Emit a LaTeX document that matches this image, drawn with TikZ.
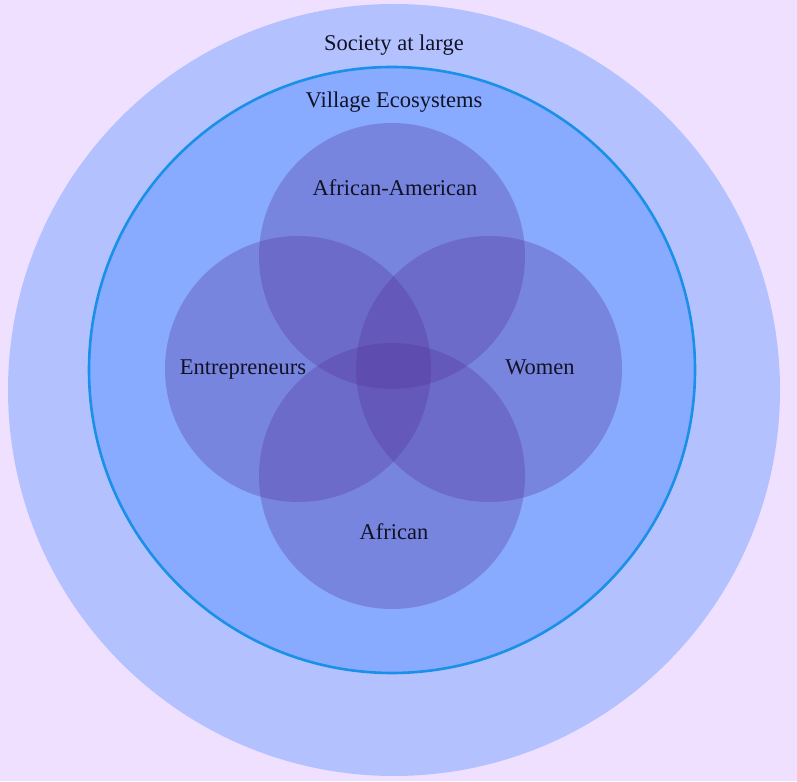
\documentclass[tikz,border=0pt]{standalone}
\usepackage{fontspec}
\setmainfont{Liberation Serif}
\usepackage{tikz}
\usetikzlibrary{positioning}
\definecolor{pagebg}{HTML}{F0E0FF}
\definecolor{societyfill}{HTML}{B3C2FF}
\definecolor{villagefill}{HTML}{88AAFF}
\definecolor{villageline}{HTML}{1A90E8}
\definecolor{groupfill}{RGB}{83,50,152}
\definecolor{labeltext}{HTML}{121226}

\begin{document}
\begin{tikzpicture}[x=1pt, y=1pt, font=\fontsize{22.5}{26}\selectfont,
    label/.style={text=labeltext, inner sep=0pt, anchor=base},
    group/.style={fill=groupfill, fill opacity=0.3}]
    \useasboundingbox[fill=pagebg] (0, 0) rectangle (797, 781);

    % Society
    \fill[societyfill] (394, 391) circle[radius=386pt];
    \node[label] (society) at (394, 730) {Society at large};

    % Village
    \draw[villageline, line width=2.6pt, fill=villagefill] (392, 411) circle[radius=303pt];
    \node[label] (village) at (394, 673) {Village Ecosystems};

    % Groups
    \fill[group] (392, 525) circle[radius=133pt];
    \fill[group] (298, 412) circle[radius=133pt];
    \fill[group] (489, 412) circle[radius=133pt];
    \fill[group] (392, 305) circle[radius=133pt];

    \node[label] (afram) at (395, 585) {African-American};
    \node[label] (entre) at (243, 406) {Entrepreneurs};
    \node[label] (women) at (540, 406) {Women};
    \node[label] (african) at (394, 241) {African};
\end{tikzpicture}
\end{document}
